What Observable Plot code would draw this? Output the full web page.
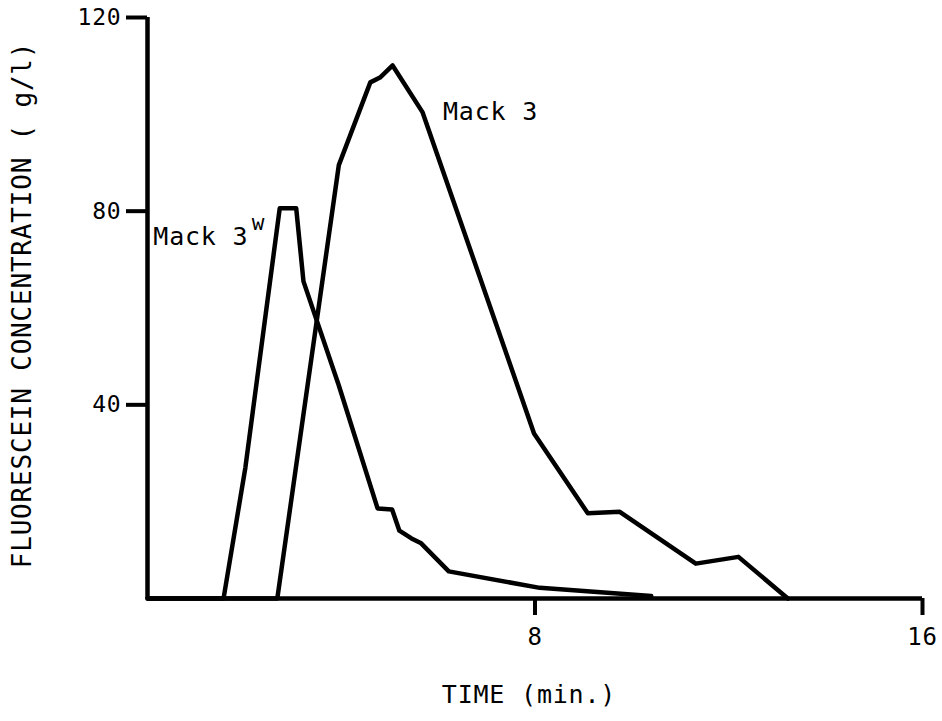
<!DOCTYPE html>
<html>
<head>
<meta charset="utf-8">
<script src="https://cdn.jsdelivr.net/npm/d3@7"></script>
<script src="https://cdn.jsdelivr.net/npm/@observablehq/plot@0.6"></script>
<style>
  html, body { margin: 0; padding: 0; background: #fff; }
  svg { display: block; }
</style>
</head>
<body>
<div id="chart"></div>
<script>
// Mack 3w series (time in min., concentration in g/l)
const mack3wTime = [0, 1.57, 2.02, 2.73, 3.07, 3.22, 3.95, 4.75, 5.05, 5.2, 5.45, 5.65, 6.22, 8.1, 10.4];
const mack3wConc = [0, 0, 27, 80.6, 80.6, 65.5, 44, 18.6, 18.4, 14, 12.4, 11.4, 5.6, 2.2, 0.5];

// Mack 3 series
const mack3Time = [0, 2.68, 3.95, 4.6, 4.8, 5.06, 5.68, 7.98, 9.09, 9.75, 11.32, 12.2, 13.22];
const mack3Conc = [0, 0, 89.5, 106.6, 107.6, 110.1, 100.4, 34.1, 17.6, 17.9, 7.2, 8.6, 0];

const xTicks = [8, 16];
const yTicks = [40, 80, 120];
const xTitle = "TIME (min.)";
const yTitle = "FLUORESCEIN CONCENTRATION ( g/l)";

const labelText = ["Mack 3", "Mack 3"];
const labelX = [6.1, 0.12];
const labelY = [100.4, 74.6];
const supText = ["w"];
const supX = [2.15];
const supY = [77.6];

const series = [
  ...mack3wTime.map((t, i) => ({series: "Mack 3w", time: t, conc: mack3wConc[i]})),
  ...mack3Time.map((t, i) => ({series: "Mack 3", time: t, conc: mack3Conc[i]}))
];
const labels = labelText.map((s, i) => ({text: s, x: labelX[i], y: labelY[i]}));
const sups = supText.map((s, i) => ({text: s, x: supX[i], y: supY[i]}));

const font = "'DejaVu Sans Mono', monospace";

const chart = Plot.plot({
  width: 942,
  height: 721,
  marginLeft: 147,
  marginRight: 20,
  marginTop: 17,
  marginBottom: 123,
  style: {fontFamily: font, fontSize: "22px", color: "#000", background: "#fff"},
  x: {domain: [0, 16]},
  y: {domain: [0, 120]},
  marks: [
    Plot.axisX(xTicks, {tickSize: 17, tickPadding: 12, strokeWidth: 4, fontSize: 24, label: null}),
    Plot.axisY(yTicks, {tickSize: 21, tickPadding: 5, strokeWidth: 4, fontSize: 23, label: null}),
    Plot.ruleX([0], {strokeWidth: 4.5, y1: 0, y2: 120}),
    Plot.ruleY([0], {strokeWidth: 4.5, x1: 0, x2: 16}),
    Plot.line(series, {x: "time", y: "conc", z: "series", stroke: "#000", strokeWidth: 4.5, strokeLinejoin: "round", curve: "linear"}),
    Plot.text(labels, {x: "x", y: "y", text: "text", textAnchor: "start", fontSize: 25, fill: "#000"}),
    Plot.text(sups, {x: "x", y: "y", text: "text", textAnchor: "start", fontSize: 21, fill: "#000"}),
    Plot.text([xTitle], {frameAnchor: "bottom", dx: -6, dy: 104, fontSize: 25, fill: "#000"}),
    Plot.text([yTitle], {frameAnchor: "left", dx: -125, dy: -3, rotate: -90, textAnchor: "middle", fontSize: 26, fill: "#000"})
  ]
});
chart.querySelectorAll("text").forEach(t => t.setAttribute("letter-spacing", "0.8"));
document.getElementById("chart").appendChild(chart);
</script>
</body>
</html>
